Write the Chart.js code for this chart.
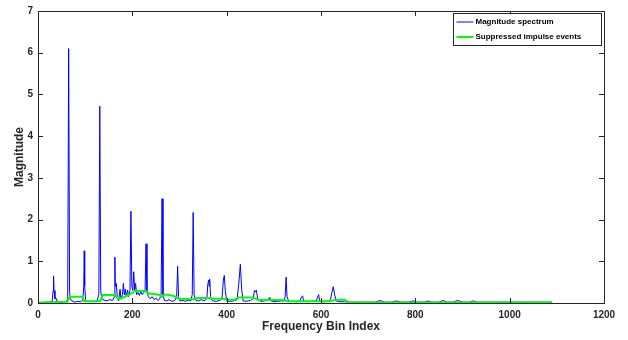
<!DOCTYPE html>
<html>
<head>
<meta charset="utf-8">
<script src="https://cdn.jsdelivr.net/npm/chart.js@4.4.1/dist/chart.umd.min.js"></script>
<style>
html,body{margin:0;padding:0;background:#fff;}
#wrap{width:628px;height:340px;position:relative;}
</style>
</head>
<body>
<div id="wrap"><canvas id="c" width="628" height="340"></canvas></div>
<script>
const seriesNames = ["Magnitude spectrum", "Suppressed impulse events"];
const xTicks = [0, 200, 400, 600, 800, 1000, 1200];
const yTicks = [0, 1, 2, 3, 4, 5, 6, 7];

const spectrumBins = [1,10,20,30,32,33,34,36,38,40,45,50,60,63,65,67,69,72,78,84,90,95,97,98,99,101,105,112,118,125,129,131,133,135,140,146,152,158,162,163,164,166,168,171,174,176,179,181,183,185,187,190,192,195,197,199,201,203,205,207,209,212,215,218,221,224,227,229,231,234,238,242,246,250,254,258,261,263,265,268,272,278,284,290,294,296,298,301,307,313,319,324,327,329,331,334,340,346,352,358,360,362,363,364,366,370,378,385,390,393,395,397,400,408,415,422,426,429,432,435,442,450,456,459,461,463,466,472,480,487,490,492,494,500,508,515,522,524,526,528,532,540,548,555,559,561,563,570,580,590,593,595,597,605,615,620,623,626,629,632,640,650,660,680,700,715,725,735,750,760,770,785,795,805,820,827,835,850,859,868,880,890,900,915,922,930,950,980,1000,1030,1060,1090];
const spectrumMag = [0.01,0.01,0.02,0.03,0.3,0.65,0.3,0.1,0.12,0.05,0.03,0.02,0.03,0.1,6.1,0.25,0.1,0.05,0.02,0.04,0.03,0.06,0.4,1.25,0.4,0.08,0.03,0.04,0.03,0.05,0.2,4.72,0.3,0.1,0.07,0.05,0.08,0.06,0.15,1.1,0.4,0.47,0.15,0.05,0.33,0.1,0.2,0.47,0.2,0.33,0.15,0.31,0.15,0.3,2.2,0.4,0.3,0.75,0.3,0.47,0.2,0.25,0.18,0.28,0.2,0.25,0.3,1.42,0.3,0.15,0.1,0.15,0.08,0.12,0.06,0.1,0.2,2.5,0.2,0.06,0.05,0.08,0.04,0.06,0.15,0.88,0.15,0.05,0.06,0.04,0.07,0.05,0.2,2.17,0.2,0.07,0.05,0.08,0.05,0.1,0.45,0.55,0.4,0.57,0.15,0.05,0.04,0.06,0.1,0.55,0.66,0.3,0.05,0.04,0.05,0.08,0.5,0.93,0.3,0.05,0.04,0.06,0.1,0.3,0.27,0.31,0.08,0.04,0.05,0.06,0.12,0.13,0.05,0.03,0.04,0.05,0.05,0.15,0.62,0.15,0.03,0.04,0.03,0.05,0.15,0.17,0.05,0.03,0.04,0.05,0.15,0.2,0.05,0.03,0.04,0.08,0.25,0.39,0.2,0.05,0.03,0.03,0.02,0.02,0.02,0.02,0.06,0.02,0.02,0.05,0.02,0.02,0.05,0.02,0.02,0.05,0.02,0.02,0.06,0.02,0.02,0.06,0.02,0.02,0.05,0.02,0.02,0.02,0.02,0.02,0.02,0.02];

const suppressedBins = [1,30,62,68,94,98,132,137,163,170,178,192,200,206,225,236,256,262,268,276,288,298,330,338,362,372,392,405,415,425,455,468,520,530,620,630,650,658,700,800,900,1000,1090];
const suppressedMag = [0.01,0.02,0.03,0.15,0.15,0.04,0.04,0.19,0.19,0.1,0.12,0.19,0.24,0.29,0.29,0.23,0.2,0.15,0.2,0.2,0.17,0.1,0.09,0.12,0.12,0.1,0.1,0.08,0.07,0.13,0.13,0.07,0.07,0.04,0.04,0.08,0.08,0.02,0.01,0.01,0.01,0.01,0.01];

const toPts = (xs, ys) => xs.map((x, i) => ({x: x, y: ys[i]}));

const FONT = "'Liberation Sans', Arial, Helvetica, sans-serif";
const AXIS_COLOR = '#262626';

const boxTicks = {
  id: 'boxTicks',
  afterDatasetsDraw(chart) {
    const {ctx, chartArea: a, scales: {x, y}} = chart;
    ctx.save();
    ctx.strokeStyle = AXIS_COLOR;
    ctx.lineWidth = 1;
    ctx.beginPath();
    ctx.rect(Math.round(a.left) + 0.5, Math.round(a.top) + 0.5, Math.round(a.right - a.left), Math.round(a.bottom - a.top));
    const L = 5;
    xTicks.forEach(v => {
      const px = Math.round(x.getPixelForValue(v)) + 0.5;
      ctx.moveTo(px, a.bottom); ctx.lineTo(px, a.bottom - L);
      ctx.moveTo(px, a.top); ctx.lineTo(px, a.top + L);
    });
    yTicks.forEach(v => {
      const py = Math.round(y.getPixelForValue(v)) + 0.5;
      ctx.moveTo(a.left, py); ctx.lineTo(a.left + L, py);
      ctx.moveTo(a.right, py); ctx.lineTo(a.right - L, py);
    });
    ctx.stroke();
    ctx.restore();
  }
};

const boxLegend = {
  id: 'boxLegend',
  afterDraw(chart) {
    const {ctx} = chart;
    const ds = chart.data.datasets;
    const bx = 453.5, by = 13.5, bw = 148, bh = 32;
    ctx.save();
    ctx.fillStyle = '#fff';
    ctx.fillRect(bx, by, bw, bh);
    ctx.strokeStyle = AXIS_COLOR;
    ctx.lineWidth = 1;
    ctx.strokeRect(bx, by, bw, bh);
    ctx.font = "bold 8px " + FONT;
    ctx.textBaseline = 'middle';
    ctx.fillStyle = '#000';
    ds.forEach((d, i) => {
      const cy = by + 8.5 + i * 15;
      ctx.strokeStyle = d.borderColor;
      ctx.lineWidth = d.borderWidth;
      ctx.beginPath();
      ctx.moveTo(bx + 3, cy); ctx.lineTo(bx + 20, cy);
      ctx.stroke();
      ctx.fillText(d.label, bx + 22, cy);
    });
    ctx.restore();
  }
};

new Chart(document.getElementById('c'), {
  type: 'line',
  data: {
    datasets: [
      {label: seriesNames[0], data: toPts(spectrumBins, spectrumMag), borderColor: '#0000ff', borderWidth: 1, pointRadius: 0, tension: 0, order: 2},
      {label: seriesNames[1], data: toPts(suppressedBins, suppressedMag), borderColor: '#00ff00', borderWidth: 2, pointRadius: 0, tension: 0, order: 1}
    ]
  },
  options: {
    responsive: false,
    animation: false,
    events: [],
    layout: {padding: {top: 8, right: 24, left: 0, bottom: 0}},
    plugins: {legend: {display: false}, tooltip: {enabled: false}},
    scales: {
      x: {
        type: 'linear', min: 0, max: 1200,
        afterBuildTicks: s => { s.ticks = xTicks.map(v => ({value: v})); },
        afterFit: s => { s.height = 37; },
        grid: {display: false, drawTicks: false},
        border: {display: true, color: AXIS_COLOR},
        ticks: {font: {family: FONT, size: 10, weight: 'bold'}, color: '#262626', padding: 6, maxRotation: 0, callback: v => String(v)},
        title: {display: true, text: 'Frequency Bin Index', font: {family: FONT, size: 12, weight: 'bold'}, color: '#262626', padding: {top: 0, bottom: 6}}
      },
      y: {
        type: 'linear', min: 0, max: 7,
        afterBuildTicks: s => { s.ticks = yTicks.map(v => ({value: v})); },
        afterFit: s => { s.width = 38; },
        grid: {display: false, drawTicks: false},
        border: {display: true, color: AXIS_COLOR},
        ticks: {font: {family: FONT, size: 10, weight: 'bold'}, color: '#262626', padding: 5, callback: v => String(v)},
        title: {display: true, text: 'Magnitude', font: {family: FONT, size: 12, weight: 'bold'}, color: '#262626', padding: {top: 12, bottom: 0}}
      }
    }
  },
  plugins: [boxTicks, boxLegend]
});
</script>
</body>
</html>
